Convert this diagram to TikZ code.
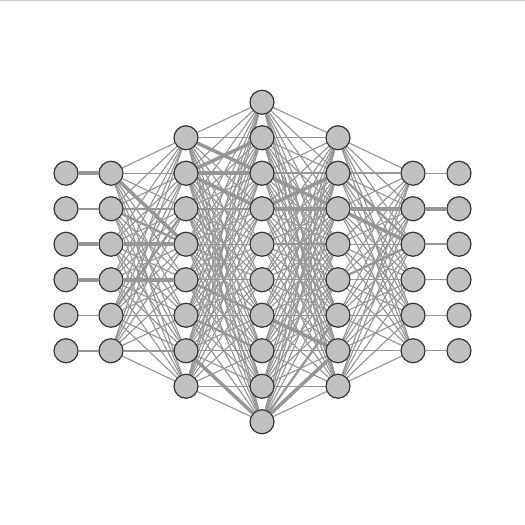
\documentclass[tikz,border=0pt]{standalone}
\usepackage{xcolor}
\usepackage{tikz}
\usetikzlibrary{positioning, backgrounds}
\definecolor{neuronFill}{RGB}{192, 192, 192}
\definecolor{neuronBorder}{RGB}{55, 55, 55}
\definecolor{edgeGray}{RGB}{150, 150, 150}
\definecolor{frameGray}{RGB}{205, 205, 205}

\begin{document}
\begin{tikzpicture}[
    x=0.02cm, y=-0.02cm,
    neuron/.style={
        circle,
        draw=neuronBorder,
        fill=neuronFill,
        line width=0.7pt,
        minimum size=0.48cm,
        inner sep=0pt
    },
    link/.style={
        draw=edgeGray,
        line width=0.65pt
    },
    medium/.style={
        link,
        line width=1.3pt
    },
    strong/.style={
        link,
        line width=2pt
    }
]
\useasboundingbox (0,0) rectangle (525,525);

% Top frame line
\draw[frameGray, line width=0.6pt] (0,0.5) -- (525,0.5);

% Neurons
\foreach \l/\x/\n in {1/66/6, 2/111/6, 3/186/8, 4/262/10, 5/338/8, 6/413/6, 7/459/6} {
    \foreach \i in {1,...,\n} {
        \pgfmathsetmacro{\y}{262 + (\i - (\n+1)/2)*35.5}
        \node[neuron] (h\l-\i) at (\x, \y) {};
    }
}

\begin{pgfonlayer}{background}
% Dense connections
\foreach \a/\b/\na/\nb in {2/3/6/8, 3/4/8/10, 4/5/10/8, 5/6/8/6} {
    \foreach \i in {1,...,\na} {
        \foreach \j in {1,...,\nb} {
            \draw[link] (h\a-\i) -- (h\b-\j);
        }
    }
}

% One-to-one connections
\foreach \i/\w in {1/strong, 2/medium, 3/strong, 4/strong, 5/link, 6/medium}
    \draw[\w] (h1-\i) -- (h2-\i);
\foreach \i/\w in {1/link, 2/strong, 3/medium, 4/link, 5/link, 6/link}
    \draw[\w] (h6-\i) -- (h7-\i);

% Heavier weights
\foreach \a/\i/\b/\j/\w in {
    2/1/3/4/strong, 2/3/3/4/strong, 2/4/3/5/strong, 2/2/3/3/medium, 2/6/3/7/medium,
    2/2/3/4/medium, 2/5/3/3/medium,
    3/1/4/3/strong, 3/2/4/2/strong, 3/2/4/3/strong, 3/2/4/4/strong, 3/7/4/10/strong, 3/6/4/8/medium,
    3/3/4/4/medium, 3/5/4/7/medium,
    4/3/5/3/strong, 4/4/5/2/strong, 4/4/5/3/strong, 4/3/5/2/medium,
    4/7/5/7/strong, 4/10/5/7/strong, 4/10/5/6/medium, 4/5/5/4/medium,
    5/3/6/2/strong, 5/3/6/3/strong, 5/2/6/1/medium, 5/2/6/3/medium, 5/5/6/3/medium}
    \draw[\w] (h\a-\i) -- (h\b-\j);
\end{pgfonlayer}

\end{tikzpicture}
\end{document}
